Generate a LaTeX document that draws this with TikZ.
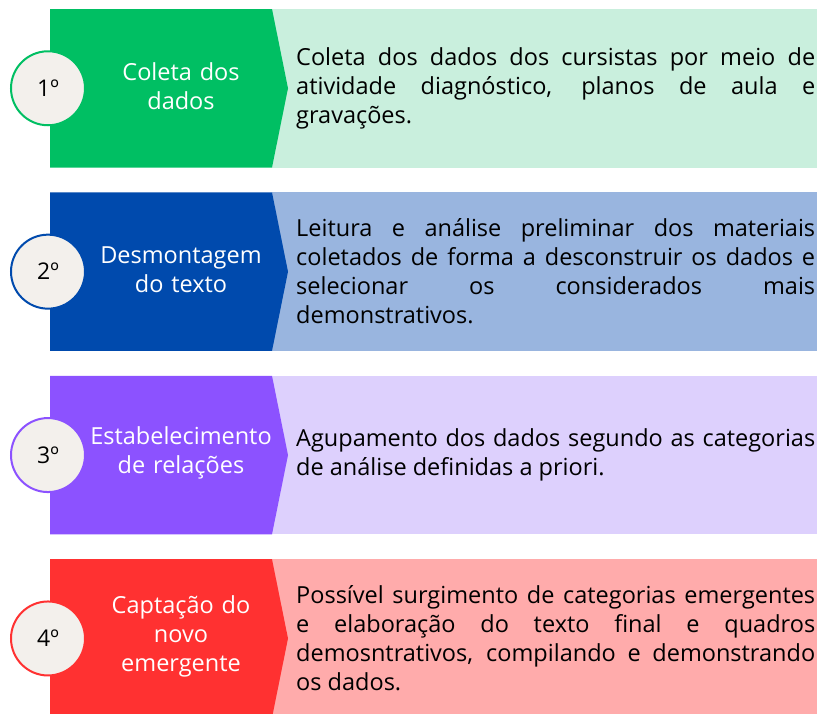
\documentclass[tikz,border=0pt]{standalone}
\usepackage{fontspec}
\setmainfont{Open Sans}
\usetikzlibrary{calc}

\definecolor{greenD}{HTML}{00BF63}
\definecolor{greenL}{HTML}{C9EFDD}
\definecolor{blueD}{HTML}{004AAD}
\definecolor{blueL}{HTML}{99B5DF}
\definecolor{purpD}{HTML}{8C52FF}
\definecolor{purpL}{HTML}{DDD0FD}
\definecolor{redD}{HTML}{FF3131}
\definecolor{redL}{HTML}{FFABAB}
\definecolor{disc}{HTML}{F3F0EC}

\begin{document}
\begin{tikzpicture} [x=1pt,y=-1pt,
  stepnum/.style={circle, minimum size=74pt, inner sep=0pt, fill=disc, draw=#1, line width=2pt, font=\fontsize{23}{26}\selectfont},
  steptitle/.style={text=white, align=center, text width=190pt, inner sep=0pt, font=\fontsize{23.5}{29}\selectfont},
  stepbody/.style={anchor=west, text width=519pt, align=justify, inner sep=0pt, font=\fontsize{23.5}{29}\selectfont}]

\useasboundingbox (0,0) rectangle (818,713);
\fill[white] (0,0) rectangle (818,713);

\foreach \i/\dark/\light/\title/\body in {
  1/greenD/greenL/{Coleta dos\\dados}/{Coleta dos dados dos cursistas por meio de\linebreak atividade diagnóstico, planos de aula e\linebreak gravações.},
  2/blueD/blueL/{Desmontagem\\do texto}/{Leitura e análise preliminar dos materiais\linebreak coletados de forma a desconstruir os dados e\linebreak selecionar os considerados mais\linebreak demonstrativos.},
  3/purpD/purpL/{Estabelecimento\\de relações}/{Agupamento dos dados segundo as categorias\linebreak de análise definidas a priori.},
  4/redD/redL/{Captação do\\novo\\emergente}/{Possível surgimento de categorias emergentes\linebreak e elaboração do texto final e quadros\linebreak demosntrativos, compilando e demonstrando\linebreak os dados.}} {
  \pgfmathsetmacro{\rowtop}{9+183.4*(\i-1)}
  \pgfmathsetmacro{\rowbot}{\rowtop+158.5}
  \pgfmathsetmacro{\rowmid}{\rowtop+79.25}

  % light panel, then the dark chevron over it
  \fill[\light] (272,\rowtop) rectangle (817,\rowbot);
  \fill[\dark] (50,\rowtop) -- (272,\rowtop) -- (288,\rowmid) -- (272,\rowbot) -- (50,\rowbot) -- cycle;

  \node[stepnum=\dark] (num\i) at (48,\rowmid) {\i º};
  \node[steptitle] (title\i) at (181,\rowmid-2) {\title};
  \node[stepbody] (body\i) at (296,\rowmid) {\body};
}

\end{tikzpicture}
\end{document}
